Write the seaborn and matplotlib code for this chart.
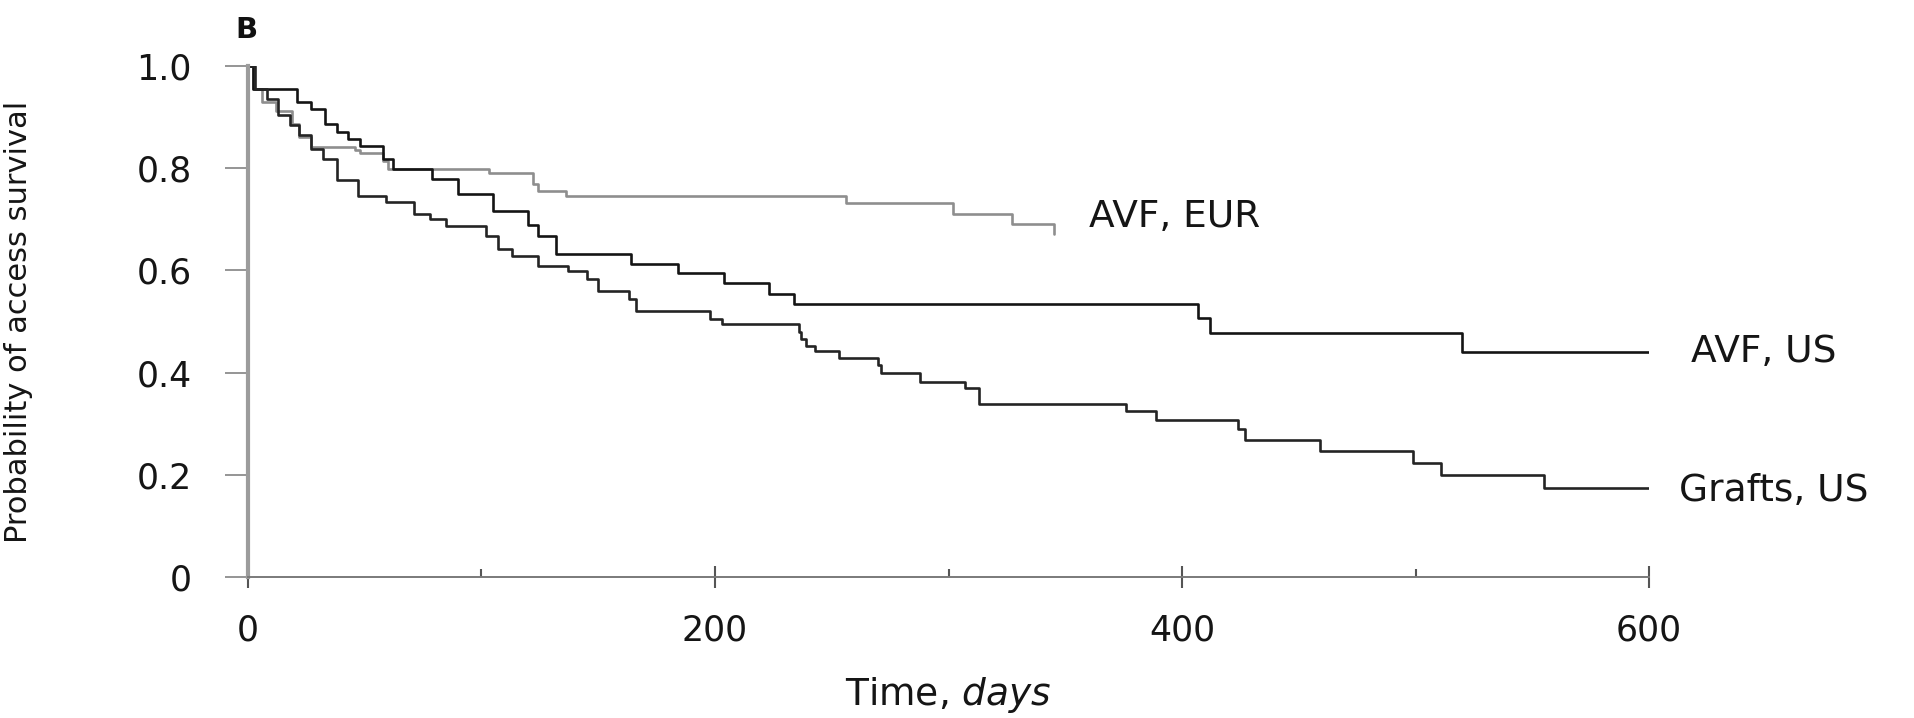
import numpy as np
import pandas as pd
import matplotlib
matplotlib.use("Agg")
import matplotlib.pyplot as plt
import seaborn as sns

# Kaplan-Meier style step curves (day = start of each level)
avf_eur_days = [0, 2, 6, 12, 19, 22, 27, 46, 48, 58, 60, 103, 122, 124, 136, 256, 302, 327, 345]
avf_eur_surv = [1.0, 0.955, 0.930, 0.912, 0.886, 0.862, 0.842, 0.835, 0.829, 0.815, 0.798,
                0.790, 0.770, 0.756, 0.746, 0.731, 0.710, 0.691, 0.671]

avf_us_days = [0, 2, 21, 27, 33, 38, 43, 48, 58, 62, 79, 90, 105, 120, 124, 132, 164, 184,
               204, 223, 234, 407, 412, 520, 600]
avf_us_surv = [1.0, 0.955, 0.930, 0.916, 0.886, 0.870, 0.857, 0.844, 0.818, 0.798, 0.779,
               0.750, 0.717, 0.688, 0.668, 0.632, 0.613, 0.595, 0.575, 0.554, 0.534, 0.506,
               0.477, 0.441, 0.441]

grafts_days = [0, 3, 8, 13, 18, 22, 27, 32, 38, 47, 59, 71, 78, 85, 102, 107, 113, 124, 137,
               145, 150, 163, 166, 198, 203, 236, 237, 239, 243, 253, 270, 271, 288, 307, 313,
               376, 389, 424, 427, 459, 499, 511, 555, 600]
grafts_surv = [1.0, 0.955, 0.935, 0.905, 0.885, 0.864, 0.838, 0.818, 0.776, 0.746, 0.733,
               0.710, 0.700, 0.687, 0.668, 0.642, 0.629, 0.609, 0.599, 0.583, 0.560, 0.544,
               0.520, 0.505, 0.496, 0.479, 0.466, 0.453, 0.442, 0.428, 0.414, 0.399, 0.382,
               0.369, 0.339, 0.324, 0.308, 0.290, 0.268, 0.246, 0.224, 0.200, 0.174, 0.174]

groups = ["AVF, EUR", "AVF, US", "Grafts, US"]
label_pos = {"AVF, EUR": (360, 0.685), "AVF, US": (618, 0.421), "Grafts, US": (613, 0.149)}

y_ticks = [0, 0.2, 0.4, 0.6, 0.8, 1.0]
y_ticklabels = ["0", "0.2", "0.4", "0.6", "0.8", "1.0"]
x_ticks = [0, 200, 400, 600]
x_minor = [100, 300, 500]

df = pd.concat([
    pd.DataFrame({"day": avf_eur_days, "surv": avf_eur_surv, "group": "AVF, EUR"}),
    pd.DataFrame({"day": avf_us_days, "surv": avf_us_surv, "group": "AVF, US"}),
    pd.DataFrame({"day": grafts_days, "surv": grafts_surv, "group": "Grafts, US"}),
], ignore_index=True)

sns.set_style("ticks")
plt.rcParams["font.family"] = ["DejaVu Sans"]
plt.rcParams["mathtext.fontset"] = "dejavusans"

fig = plt.figure(figsize=(19.15, 7.18), dpi=100)
ax = fig.add_axes([248 / 1915, 141 / 718, 1401 / 1915, 511 / 718])

palette = {"AVF, EUR": "#8e8e8e", "AVF, US": "#141414", "Grafts, US": "#242424"}
sns.lineplot(data=df, x="day", y="surv", hue="group", palette=palette,
             drawstyle="steps-post", estimator=None, sort=False,
             linewidth=1.9, legend=False, ax=ax)

ax.set_xlim(0, 600)
ax.set_ylim(0, 1.0)
ax.set_yticks(y_ticks)
ax.set_yticklabels(y_ticklabels)
ax.set_xticks(x_ticks)
ax.set_xticks(x_minor, minor=True)

sns.despine(ax=ax)
ax.spines["left"].set_color("#9c9c9c")
ax.spines["left"].set_linewidth(3.0)
ax.spines["bottom"].set_color("#7a7a7a")
ax.spines["bottom"].set_linewidth(1.4)

ax.tick_params(axis="y", direction="out", length=16.5, width=1.3, color="#8c8c8c",
               pad=24, labelsize=25, labelcolor="#151515")
ax.tick_params(axis="x", which="major", direction="inout", length=16, width=1.5,
               color="#555555", pad=18, labelsize=25, labelcolor="#151515")
ax.tick_params(axis="x", which="minor", direction="in", length=6, width=1.5, color="#555555")

ax.set_xlabel("Time, $\\mathit{days}$", fontsize=27, color="#151515")
ax.xaxis.label.set_verticalalignment("baseline")
ax.xaxis.set_label_coords(0.5, -0.250)

ax.set_ylabel("Probability of access survival", fontsize=22, color="#151515")
ax.yaxis.label.set_verticalalignment("center")
ax.yaxis.set_label_coords(-0.1635, 0.5)

for g in groups:
    x, y = label_pos[g]
    ax.text(x, y, g, fontsize=27, color="#151515", ha="left", va="baseline", clip_on=False)

fig.text(246 / 1915, 1 - 30 / 718, "B", fontsize=21, fontweight="bold",
         ha="center", va="center", color="#111111")

fig.savefig("out.png", dpi=100, facecolor="white")
